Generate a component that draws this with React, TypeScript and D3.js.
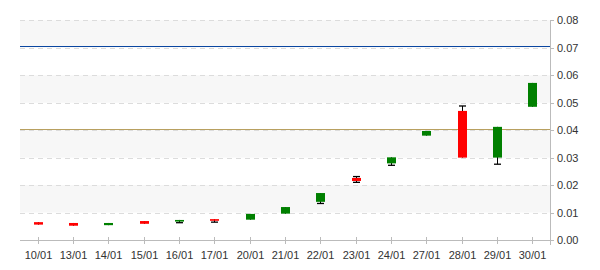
import React from "react";
import * as d3 from "d3";

const categories = ["10/01","13/01","14/01","15/01","16/01","17/01","20/01","21/01","22/01","23/01","24/01","27/01","28/01","29/01","30/01"];
const openVals =  [0.0065,0.0062,0.0054,0.0069,0.0067,0.0076,0.0074,0.0096,0.0139,0.0226,0.0279,0.0380,0.0470,0.0300,0.0485];
const closeVals = [0.0056,0.0052,0.0062,0.0059,0.0073,0.0070,0.0095,0.0120,0.0171,0.0215,0.0301,0.0397,0.0300,0.0412,0.0572];
const highVals =  [0.0065,0.0062,0.0062,0.0069,0.0073,0.0076,0.0095,0.0120,0.0171,0.0231,0.0301,0.0397,0.0488,0.0412,0.0572];
const lowVals =   [0.0056,0.0052,0.0054,0.0059,0.0063,0.0065,0.0074,0.0096,0.0133,0.0210,0.0272,0.0380,0.0300,0.0276,0.0485];
const yTicks = [0,0.01,0.02,0.03,0.04,0.05,0.06,0.07,0.08];
const refLines = [
  { value: 0.07054, color: "#0a46a0" },
  { value: 0.0403, color: "#b8a060" },
];

export default function App() {
  const W = 600, H = 270;
  const x = d3.scaleBand().domain(categories).range([20, 550]).padding(0);
  const y = d3.scaleLinear().domain([0, 0.08]).range([240, 20.3]);
  const font = "'Liberation Sans', Arial, sans-serif";
  const bw = 9, cap = 7;
  const bands = yTicks.slice(0, -1).filter((_, i) => i % 2 === 1);
  return (
    <svg width={W} height={H} style={{ position: "absolute", left: 0, top: 0 }}>
      <rect x={0} y={0} width={W} height={H} fill="#fff" />
      {bands.map((t) => (
        <rect key={"b" + t} x={20} width={530} y={y(t + 0.01)} height={y(t) - y(t + 0.01)} fill="#f7f7f7" />
      ))}
      {yTicks.slice(1).map((t) => (
        <line key={"g" + t} x1={20} x2={547} y1={Math.round(y(t)) + 0.5} y2={Math.round(y(t)) + 0.5} stroke="#dcdcdc" strokeDasharray="5,4" />
      ))}
      {refLines.map((r) => (
        <line key={"r" + r.value} x1={20} x2={550} y1={Math.round(y(r.value)) + 0.5} y2={Math.round(y(r.value)) + 0.5} stroke={r.color} strokeWidth={1.2} />
      ))}
      <line x1={550.5} x2={550.5} y1={20} y2={245} stroke="#bbb" />
      <line x1={20} x2={550} y1={240.5} y2={240.5} stroke="#bbb" />
      {yTicks.map((t) => (
        <g key={"yt" + t}>
          <line x1={550} x2={554} y1={Math.round(y(t)) + 0.5} y2={Math.round(y(t)) + 0.5} stroke="#bbb" />
          <text x={557} y={y(t) + 4} fontFamily={font} fontSize={11} fill="#333">{t.toFixed(2)}</text>
        </g>
      ))}
      {categories.map((c) => {
        const cx = Math.round(x(c)! + x.bandwidth() / 2) + 0.5;
        return (
          <g key={"xt" + c}>
            <line x1={cx} x2={cx} y1={237} y2={244} stroke="#bbb" />
            <text x={cx} y={259} textAnchor="middle" fontFamily={font} fontSize={11} fill="#333">{c}</text>
          </g>
        );
      })}
      {categories.map((c, i) => {
        const cx = Math.round(x(c)! + x.bandwidth() / 2) + 0.5;
        const o = openVals[i], cl = closeVals[i];
        const top = y(Math.max(o, cl)), bot = y(Math.min(o, cl));
        const col = cl >= o ? "#008000" : "#ff0000";
        const hy = y(highVals[i]), ly = y(lowVals[i]);
        return (
          <g key={"c" + c}>
            <line x1={cx} x2={cx} y1={hy} y2={ly} stroke="#000" />
            {hy < top - 0.5 && <line x1={cx - cap / 2} x2={cx + cap / 2} y1={hy} y2={hy} stroke="#000" strokeWidth={1.3} />}
            {ly > bot + 0.5 && <line x1={cx - cap / 2} x2={cx + cap / 2} y1={ly} y2={ly} stroke="#000" strokeWidth={1.3} />}
            <rect x={cx - bw / 2} y={top} width={bw} height={Math.max(1.5, bot - top)} fill={col} />
          </g>
        );
      })}
    </svg>
  );
}
